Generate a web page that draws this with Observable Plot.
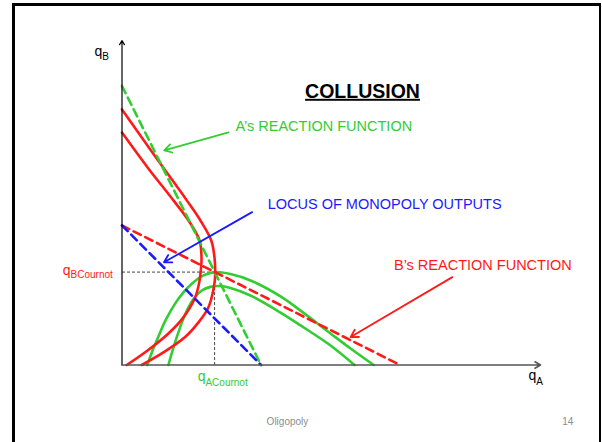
<!DOCTYPE html>
<html>
<head>
<meta charset="utf-8">
<script src="https://cdn.jsdelivr.net/npm/d3@7"></script>
<script src="https://cdn.jsdelivr.net/npm/@observablehq/plot@0.6"></script>
<style>
  html, body { margin: 0; padding: 0; background: #fff; }
  #wrap { position: relative; width: 602px; height: 442px; overflow: hidden; }
  #border { position: absolute; left: 12px; top: 3px; width: 584px; height: 470px;
            border-left: 3px solid #000; border-top: 3px solid #000; border-right: 2px solid #000; }
  #chart { position: absolute; left: 0; top: 0; }
</style>
</head>
<body>
<div id="wrap"><div id="border"></div><div id="chart"></div></div>
<script>
// ---- Data (qA horizontal, qB vertical) ----
const monopolyLocus = [{qA: 0, qB: 50}, {qA: 50, qB: 0}];
const reactionA = [{qA: 0, qB: 100}, {qA: 50, qB: 0}];
const reactionB = [{qA: 0, qB: 50}, {qA: 100, qB: 0}];
const cournotQ = 33.3;

// red isoprofit curves (C-shaped)
const isoRedOuter = [
  [0, 91.6], [11.7, 75.1], [23.3, 59.0], [28.2, 51.8], [32.1, 44.6], [33.3, 38.2],
  [33.5, 33.2], [33.3, 29.6], [31.1, 20.7], [27.2, 14.9], [22.7, 10.0], [14.9, 4.5], [7.1, 0]
];
const isoRedInner = [
  [0, 83.3], [9.2, 70.8], [18.5, 59.0], [23.9, 51.8], [27.9, 44.6], [28.6, 38.2],
  [28.4, 34.6], [27.9, 30.3], [26.3, 24.2], [21.8, 16.7], [16.7, 11.3], [9.2, 5.2], [1.7, 0]
];
// green isoprofit curves (humps)
const isoGreenOuter = [
  [9.1, 0], [11.0, 5.2], [13.1, 10.2], [15.6, 15.9], [19.1, 22.0], [22.1, 26.0], [25.1, 29.1],
  [29.3, 32.1], [33.5, 33.3], [39.0, 32.6], [46.2, 30.3], [57.0, 24.6], [64.2, 19.5],
  [75.0, 11.3], [82.2, 5.9], [90.5, 0]
];
const isoGreenInner = [
  [16.7, 0], [18.2, 5.2], [19.7, 10.0], [21.8, 15.9], [23.9, 20.7], [26.1, 24.2], [28.7, 26.7],
  [31.8, 28.0], [35.1, 28.3], [39.0, 27.6], [46.2, 24.9], [57.0, 18.8], [64.2, 14.2],
  [75.0, 7.0], [83.6, 0]
];

// annotation labels and arrows
const labels = [
  {text: "A’s REACTION FUNCTION", qA: 40.8, qB: 85.5, color: "#33cc33"},
  {text: "LOCUS OF MONOPOLY OUTPUTS", qA: 52.4, qB: 57.5, color: "#1a1aff"},
  {text: "B’s REACTION FUNCTION", qA: 97.8, qB: 35.7, color: "#ff1a1a"}
];
const pointers = [
  {x1: 38.3, y1: 83.4, x2: 15.2, y2: 76.9, color: "#33cc33"},
  {x1: 46.8, y1: 54.8, x2: 15.1, y2: 36.8, color: "#1a1aff"},
  {x1: 118.8, y1: 31.5, x2: 82.2, y2: 10.0, color: "#ff1a1a"}
];
const title = {text: "COLLUSION", qA: 86.5, qB: 98.0};
const axisEnds = {qA: 150.5, qB: 116.3};
const mainLetters = [
  {t: "q", qA: -7.1, qB: 112.3, color: "#000"},
  {t: "q", qA: 149.0, qB: -3.8, color: "#000"},
  {t: "q", qA: -18.5, qB: 34.0, color: "#ff1a1a"},
  {t: "q", qA: 30.0, qB: -4.2, color: "#33cc33"}
];
const subLetters = [
  {t: "B", qA: -7.1, qB: 110.6, color: "#000"},
  {t: "A", qA: 149.0, qB: -6.1, color: "#000"},
  {t: "BCournot", qA: -18.5, qB: 32.2, color: "#ff1a1a"},
  {t: "ACournot", qA: 30.0, qB: -6.5, color: "#33cc33"}
];
const footer = [
  {t: "Oligopoly", qA: 59.5, qB: -20.4, anchor: "start"},
  {t: "14", qA: 160.3, qB: -20.4, anchor: "end"}
];

const toXY = arr => arr.map(([qA, qB]) => ({qA, qB}));
const font = "Arial, 'Liberation Sans', Helvetica, sans-serif";
const RED = "#ff1a1a", GREEN = "#33cc33", BLUE = "#1a1aff";

const plot = Plot.plot({
  width: 602,
  height: 442,
  margin: 0,
  style: {background: "transparent", overflow: "visible", fontFamily: font},
  x: {domain: [0, axisEnds.qA], range: [121.5, 540], axis: null},
  y: {domain: [0, axisEnds.qB], range: [364.5, 40], axis: null},
  marks: [
    // Cournot guide lines
    Plot.link([{x1: 0, y1: cournotQ, x2: cournotQ, y2: cournotQ}, {x1: cournotQ, y1: cournotQ, x2: cournotQ, y2: 0}],
      {x1: "x1", y1: "y1", x2: "x2", y2: "y2", stroke: "#444", strokeWidth: 1, strokeDasharray: "3,2"}),
    // isoprofit curves
    Plot.line(toXY(isoGreenOuter), {x: "qA", y: "qB", stroke: GREEN, strokeWidth: 2.6, curve: "catmull-rom"}),
    Plot.line(toXY(isoGreenInner), {x: "qA", y: "qB", stroke: GREEN, strokeWidth: 2.6, curve: "catmull-rom"}),
    Plot.line(toXY(isoRedOuter), {x: "qA", y: "qB", stroke: RED, strokeWidth: 2.6, curve: "catmull-rom"}),
    Plot.line(toXY(isoRedInner), {x: "qA", y: "qB", stroke: RED, strokeWidth: 2.6, curve: "catmull-rom"}),
    // dashed reaction functions and monopoly locus
    Plot.line(reactionA, {x: "qA", y: "qB", stroke: GREEN, strokeWidth: 2.6, strokeDasharray: "8,5"}),
    Plot.line(reactionB, {x: "qA", y: "qB", stroke: RED, strokeWidth: 2.6, strokeDasharray: "8,5"}),
    Plot.line(monopolyLocus, {x: "qA", y: "qB", stroke: BLUE, strokeWidth: 2.6, strokeDasharray: "8,5"}),
    // axes
    Plot.arrow([{x1: 0, y1: 0, x2: 0, y2: axisEnds.qB}], {x1: "x1", y1: "y1", x2: "x2", y2: "y2", stroke: "#000", strokeWidth: 1.2, headLength: 6}),
    Plot.arrow([{x1: 0, y1: 0, x2: axisEnds.qA, y2: 0}], {x1: "x1", y1: "y1", x2: "x2", y2: "y2", stroke: "#555", strokeWidth: 1.6, headLength: 6}),
    // pointer arrows
    Plot.arrow(pointers, {x1: "x1", y1: "y1", x2: "x2", y2: "y2", stroke: "color", strokeWidth: 1.8, headLength: 7}),
    // labels
    Plot.text(labels, {x: "qA", y: "qB", text: "text", fill: "color", textAnchor: "start", fontSize: 14.5, fontFamily: font}),
    Plot.text([title], {x: "qA", y: "qB", text: "text", fill: "#000", fontSize: 19.5, fontWeight: "bold", fontFamily: font}),
    Plot.text(mainLetters, {x: "qA", y: "qB", text: "t", fill: "color", textAnchor: "end", fontSize: 14, fontFamily: font}),
    Plot.text(subLetters, {x: "qA", y: "qB", text: "t", fill: "color", textAnchor: "start", fontSize: 10, fontFamily: font}),
    Plot.text(footer, {x: "qA", y: "qB", text: "t", fill: "#8c8c8c", textAnchor: "anchor", fontSize: 10, fontFamily: font})
  ]
});
d3.select(plot).selectAll("text").filter(function() { return this.textContent === "COLLUSION"; })
  .style("text-decoration", "underline");
document.getElementById("chart").appendChild(plot);
</script>
</body>
</html>
